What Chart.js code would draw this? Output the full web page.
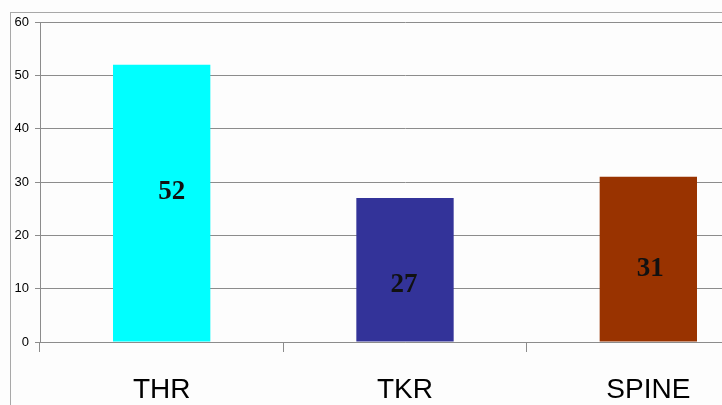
<!DOCTYPE html>
<html>
<head>
<meta charset="utf-8">
<script src="https://cdn.jsdelivr.net/npm/chart.js@4"></script>
<style>
  html, body { margin: 0; padding: 0; background: #fdfdfd; overflow: hidden; }
  #wrap { position: relative; width: 722px; height: 405px; overflow: hidden; }
  #frame { position: absolute; left: 10px; top: 12px; width: 900px; height: 500px;
           border-left: 1px solid #a8a8a8; border-top: 1px solid #a8a8a8; }
  canvas { position: absolute; left: 0; top: 0; }
</style>
</head>
<body>
<div id="wrap">
  <div id="frame"></div>
  <canvas id="c" width="790" height="405"></canvas>
</div>
<script>
const categories = ['THR', 'TKR', 'SPINE'];
const counts = [52, 27, 31];
const barColors = ['#00FFFF', '#333399', '#993300'];
const yTicks = [0, 10, 20, 30, 40, 50, 60];

// Hand placement of each value label relative to its bar's middle (px)
const labelNudge = [[10, -11], [-1, 15], [2, 10]];

// Writes each bar's value in bold serif inside the bar
const valueLabels = {
  id: 'valueLabels',
  afterDatasetsDraw(chart) {
    const ctx = chart.ctx;
    const meta = chart.getDatasetMeta(0);
    ctx.save();
    ctx.font = 'bold 27px "Liberation Serif", "Times New Roman", serif';
    ctx.fillStyle = '#111111';
    ctx.textAlign = 'center';
    ctx.textBaseline = 'middle';
    meta.data.forEach((bar, i) => {
      const mid = (bar.y + bar.base) / 2;
      const [dx, dy] = labelNudge[i];
      ctx.fillText(String(counts[i]), bar.x + dx, mid + dy);
    });
    ctx.restore();
  }
};

new Chart(document.getElementById('c'), {
  type: 'bar',
  data: {
    labels: categories,
    datasets: [{
      data: counts,
      backgroundColor: barColors,
      borderWidth: 0,
      categoryPercentage: 1,
      barPercentage: 0.4
    }]
  },
  options: {
    responsive: false,
    animation: false,
    layout: { padding: { left: 0, right: 20, top: 22, bottom: 0 } },
    plugins: { legend: { display: false }, tooltip: { enabled: false } },
    scales: {
      x: {
        afterFit(scale) { scale.height = 63; },
        grid: { offset: true, drawOnChartArea: false, tickLength: 10, color: '#8c8c8c', lineWidth: 1 },
        border: { display: true, color: '#8c8c8c' },
        ticks: {
          color: '#000000',
          padding: 21,
          font: { family: '"Liberation Sans", Arial, sans-serif', size: 28 }
        }
      },
      y: {
        min: 0,
        max: 60,
        afterFit(scale) { scale.width = 40; },
        afterBuildTicks(scale) { scale.ticks = yTicks.map(v => ({ value: v })); },
        grid: { color: '#8c8c8c', tickLength: 5, lineWidth: 1 },
        border: { display: true, color: '#8c8c8c' },
        ticks: {
          color: '#000000',
          padding: 6,
          font: { family: '"Liberation Sans", Arial, sans-serif', size: 13 }
        }
      }
    }
  },
  plugins: [valueLabels]
});
</script>
</body>
</html>
